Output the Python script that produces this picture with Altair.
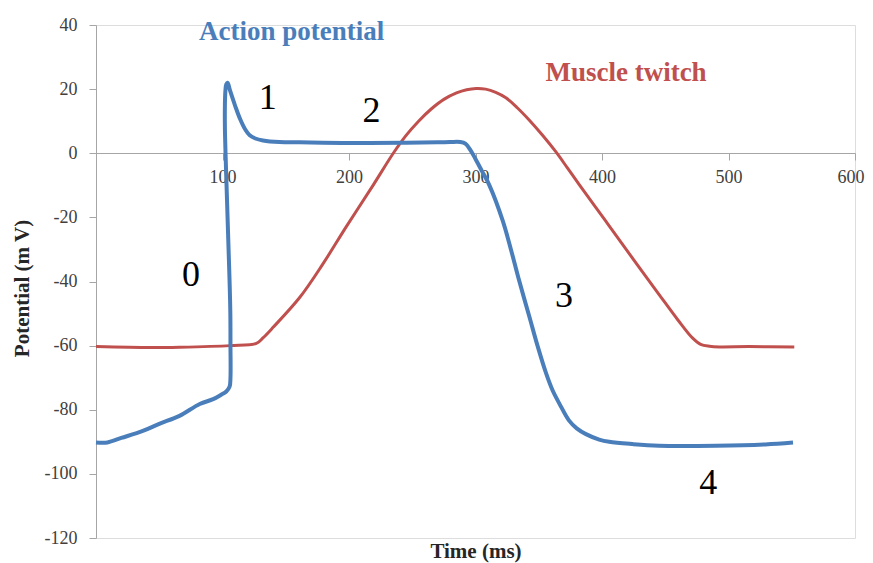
import altair as alt
import pandas as pd

# Action potential (blue)
ap_time = [0, 9, 20, 37, 50, 66, 82, 92.6, 99, 103, 105.6, 106.3, 106.3, 106.2, 105.6, 104.8, 104.0,
           103.2, 102.4, 101.9, 101.9, 102.3, 103.0, 104.0, 106, 110, 114, 118, 121.5, 126, 132, 145,
           161, 200, 242, 270, 280, 288, 292, 296, 300, 305, 311, 321.5, 328, 334, 342.6, 349, 355.7,
           361, 366.2, 374, 380, 387.3, 397.8, 405.7, 424, 445, 490, 529, 551]
ap_mv = [-90.2, -90.2, -88.8, -86.6, -84.4, -81.9, -78.2, -76.7, -75.3, -74.3, -72.8, -70, -60, -50,
         -40, -30, -20, -10, 0, 8, 15, 19.5, 21.5, 22.0, 19.5, 14.8, 10.6, 7.4, 5.6, 4.6, 4.0, 3.5,
         3.4, 3.2, 3.3, 3.4, 3.5, 3.5, 3.0, 1.0, -1.8, -5.5, -10, -21, -30, -39, -51, -60, -68.5,
         -74, -78, -83.4, -85.8, -87.6, -89.3, -90.0, -90.7, -91.2, -91.2, -90.8, -90.2]

# Muscle twitch (red)
mt_time = [0, 43, 66, 106, 126.8, 132, 140, 161, 179.4, 198, 219, 235, 245, 255, 265, 275, 285, 293,
           300.5, 308, 316, 324, 333, 342.6, 353, 363.6, 372.5, 382, 403, 418.8, 426.8, 445, 460,
           471.5, 478, 485, 493, 516, 552]
mt_mv = [-60.3, -60.6, -60.5, -60.0, -59.3, -57.6, -54.3, -45, -34.5, -22.8, -10, 0, 5.5, 10, 13.8,
         16.8, 18.8, 19.8, 20.2, 20.0, 19.0, 17.3, 14.2, 10.3, 5.6, 0.4, -4.5, -9.8, -21.2, -29.8,
         -34.2, -44.0, -52.0, -57.6, -59.6, -60.2, -60.4, -60.3, -60.4]

# Phase labels
phase_text = ["0", "1", "2", "3", "4"]
phase_time = [75, 135.8, 217.7, 370, 484]
phase_mv = [-38.1, 17.2, 13.1, -44.4, -103]

# Series labels
series_text = ["Action potential", "Muscle twitch"]
series_time = [154.7, 419]
series_mv = [37.8, 25]
series_color = ["#4A7EBB", "#C0504D"]

x_ticks = [0, 100, 200, 300, 400, 500, 600]
y_ticks = [-120, -100, -80, -60, -40, -20, 0, 20, 40]

ap = pd.DataFrame({"t": ap_time, "v": ap_mv, "i": list(range(len(ap_time)))})
mt = pd.DataFrame({"t": mt_time, "v": mt_mv, "i": list(range(len(mt_time)))})
ph = pd.DataFrame({"t": phase_time, "v": phase_mv, "label": phase_text})
sl = pd.DataFrame({"t": series_time, "v": series_mv, "label": series_text, "c": series_color})

axis_gray = "#A6A6A6"
serif = "Liberation Serif"

x_enc = alt.X("t:Q", scale=alt.Scale(domain=[0, 600], nice=False),
              axis=alt.Axis(values=x_ticks, labelExpr="datum.value == 0 ? '' : format(datum.value, 'd')",
                            offset=-385, tickSize=7, labelPadding=8, grid=False,
                            labelFlush=True, labelFlushOffset=9,
                            domainColor=axis_gray, tickColor=axis_gray,
                            labelFont=serif, labelFontSize=18, labelColor="#404040",
                            title="Time (ms)", titleY=398, titleBaseline="middle",
                            titleFont=serif, titleFontSize=21, titleFontWeight="bold",
                            titleColor="#262626"))
y_enc = alt.Y("v:Q", scale=alt.Scale(domain=[-120, 40], nice=False),
              axis=alt.Axis(values=y_ticks, tickSize=7, labelPadding=12, grid=False, labelFlush=False,
                            labelExpr="datum.value < 0 ? '-' + format(-datum.value, 'd') : format(datum.value, 'd')",
                            domainColor=axis_gray, tickColor=axis_gray,
                            labelFont=serif, labelFontSize=18, labelColor="#404040",
                            title="Potential (m V)", titleX=-74, titleY=263,
                            titleAlign="center", titleBaseline="middle", titleAngle=-90,
                            titleFont=serif, titleFontSize=21, titleFontWeight="bold",
                            titleColor="#262626"))

red = alt.Chart(mt).mark_line(color="#C0504D", strokeWidth=3, interpolate="catmull-rom").encode(
    x=x_enc, y=y_enc, order="i:Q")
blue = alt.Chart(ap).mark_line(color="#4A7EBB", strokeWidth=4, interpolate="catmull-rom").encode(
    x="t:Q", y="v:Q", order="i:Q")
phases = alt.Chart(ph).mark_text(font=serif, fontSize=36, color="black",
                                 align="center", baseline="middle").encode(
    x="t:Q", y="v:Q", text="label:N")
labels = alt.Chart(sl).mark_text(font=serif, fontSize=27, fontWeight="bold",
                                 align="center", baseline="middle").encode(
    x="t:Q", y="v:Q", text="label:N", color=alt.Color("c:N", scale=None))

chart = alt.layer(red, blue, phases, labels).properties(
    width=759, height=513, autosize="none",
    padding={"left": 88, "top": 17, "right": 10, "bottom": 25},
).configure_view(stroke=None).configure(background="white")

chart.save("out.html", embed_options={"renderer": "svg", "actions": False})
